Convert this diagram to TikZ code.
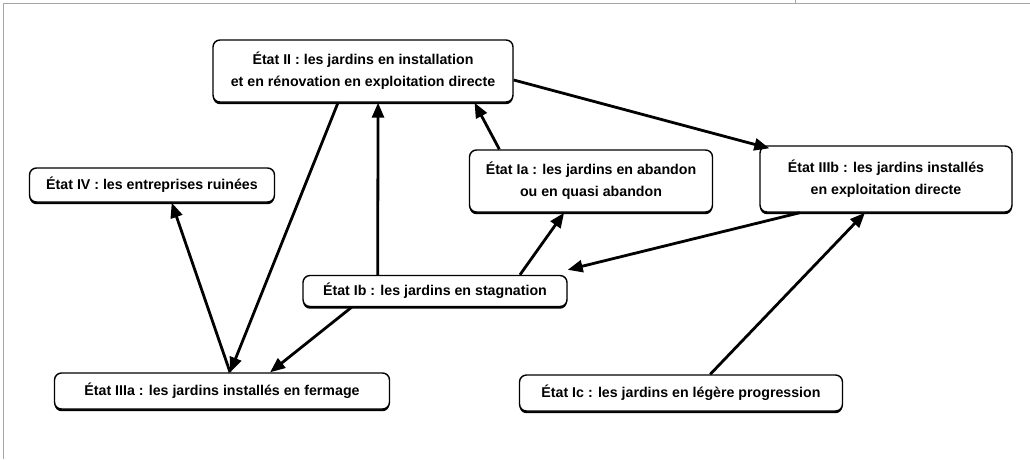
\documentclass[tikz,border=0pt]{standalone}
\usepackage{fontspec}
\setmainfont{Liberation Sans}
\usetikzlibrary{arrows.meta,shadows,calc}
\begin{document}
\begin{tikzpicture}[x=1pt,y=-1pt,
  etat/.style={draw=black, line width=1.4pt, rounded corners=7pt, fill=white,
    font=\bfseries\fontsize{14.2}{22}\selectfont, align=center, inner sep=0pt,
    drop shadow={shadow xshift=0pt, shadow yshift=-2.2pt, fill=black, opacity=1}},
  fl/.style={line width=2.8pt, -{Triangle[length=15pt,width=12pt]}}
]
\useasboundingbox (0,0) rectangle (1030,459);
\draw[gray!70, line width=0.8pt] (3,459) -- (3,3) -- (1030,3);
\draw[gray!70, line width=0.8pt] (795,0) -- (795,3);

\node[etat, minimum width=300pt, minimum height=62pt] (II) at (363,71)
  {État II : les jardins en installation\\et en rénovation en exploitation directe};
\node[etat, minimum width=245pt, minimum height=34pt] (IV) at (152,185)
  {État IV : les entreprises ruinées};
\node[etat, minimum width=243pt, minimum height=62pt] (Ia) at (591,181)
  {État Ia : les jardins en abandon\\ou en quasi abandon};
\node[etat, minimum width=252pt, minimum height=66pt] (IIIb) at (886,179)
  {État IIIb : les jardins installés\\en exploitation directe};
\node[etat, minimum width=264pt, minimum height=31pt] (Ib) at (435,291)
  {État Ib : les jardins en stagnation};
\node[etat, minimum width=335pt, minimum height=36pt] (IIIa) at (222,391)
  {État IIIa : les jardins installés en fermage};
\node[etat, minimum width=323pt, minimum height=36pt] (Ic) at (681,393)
  {État Ic : les jardins en légère progression};

\coordinate (IIr) at ($(II.east)+(0,9)$);
\coordinate (IIbA) at ($(II.south west)!0.417!(II.south east)$);
\coordinate (IIbB) at ($(II.south west)!0.55!(II.south east)$);
\coordinate (IIbC) at ($(II.south west)!0.87!(II.south east)$);
\coordinate (IIIbTL) at ($(IIIb.north west)+(10,3)$);
\coordinate (IIIbBL) at ($(IIIb.south west)!0.16!(IIIb.south east)$);
\coordinate (IIIbB) at ($(IIIb.south west)!0.417!(IIIb.south east)$);
\coordinate (IaTL) at ($(Ia.north west)!0.125!(Ia.north east)$);
\coordinate (IaB) at ($(Ia.south west)!0.39!(Ia.south east)$);
\coordinate (IbT) at ($(Ib.north west)!0.284!(Ib.north east)$);
\coordinate (IbTR) at ($(Ib.north west)!0.82!(Ib.north east)$);
\coordinate (IbR) at ($(Ib.north east)+(0,-5)$);
\coordinate (IbB) at ($(Ib.south west)!0.186!(Ib.south east)$);
\coordinate (IIIaT) at ($(IIIa.north west)!0.524!(IIIa.north east)$);
\coordinate (IIIaTR) at ($(IIIa.north west)!0.643!(IIIa.north east)$);
\coordinate (IVB) at ($(IV.south west)!0.58!(IV.south east)$);
\coordinate (IcT) at ($(Ic.north west)!0.59!(Ic.north east)$);

\draw[fl] (IIr) -- (IIIbTL);
\draw[fl] (IaTL) -- (IIbC);
\draw[fl] (IIbA) -- (IIIaT);
\draw[fl] (IbT) -- (IIbB);
\draw[fl] (IIIaT) -- (IVB);
\draw[fl] (IbB) -- (IIIaTR);
\draw[fl] (IbTR) -- (IaB);
\draw[fl] (IIIbBL) -- (IbR);
\draw[fl] (IcT) -- (IIIbB);
\end{tikzpicture}
\end{document}
